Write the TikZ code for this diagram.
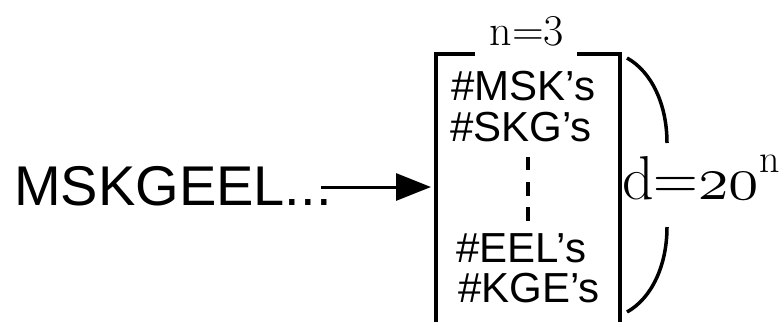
\documentclass[tikz,border=0pt]{standalone}
\usepackage{fix-cm}
\usepackage{fontspec}
\newfontfamily\sansfont{Liberation Sans}
\usetikzlibrary{arrows.meta}
\newcommand{\osnum}[1]{$\mathnormal{#1}$}
\begin{document}
\begin{tikzpicture}[x=1pt,y=-1pt,
  frame/.style={line width=3.2pt},
  entry/.style={font=\sansfont\fontsize{42}{42}\selectfont, anchor=base west, inner sep=0pt},
  serif/.style={inner sep=0pt},
  dotdash/.style={line width=4.5pt}]
\useasboundingbox (0,0) rectangle (781,322);
% input sequence
\node[font=\sansfont\fontsize{56}{56}\selectfont, anchor=base west, inner sep=0pt] (seq) at (14,205) {MSKGEEL...};
\coordinate (arrowend) at (431,187);
\draw[line width=3pt, -{Triangle[length=35pt,width=27pt]}] (321,187) -- (arrowend);
% bracket box holding the counts
\coordinate (tl) at (436,54);
\coordinate (tr) at (620,54);
\draw[frame] (436,322) -- (tl) -- (475,54);
\draw[frame] (577,54) -- (tr) -- (620,322);
\node[serif, font=\fontsize{44}{44}\selectfont, anchor=base] (nlabel) at (527,45) {n=3};
\node[entry] (msk) at (451,100) {\#MSK’s};
\node[entry] (skg) at (450,141) {\#SKG’s};
\node[entry] (eel) at (456,262) {\#EEL’s};
\node[entry] (kge) at (458,302) {\#KGE’s};
% vertical ellipsis between the rows
\draw[dotdash] (528,157) -- (528,170);
\draw[dotdash] (528,182) -- (528,196);
\draw[dotdash] (528,207) -- (528,221);
% dimension brace
\coordinate (b1) at (627,58);
\coordinate (b2) at (667,143);
\coordinate (b3) at (667,227);
\coordinate (b4) at (627,312);
\draw[line width=3.5pt] (b1) .. controls (652,72) and (667,105) .. (b2);
\draw[line width=3.5pt] (b3) .. controls (667,265) and (652,298) .. (b4);
\node[serif, font=\fontsize{62}{62}\selectfont, anchor=base west] (dlabel) at (622,199) {d=\osnum{20}};
\node[serif, font=\fontsize{40}{40}\selectfont, anchor=base west] (dexp) at (dlabel.base east) [yshift=27pt] {n};
\end{tikzpicture}
\end{document}
